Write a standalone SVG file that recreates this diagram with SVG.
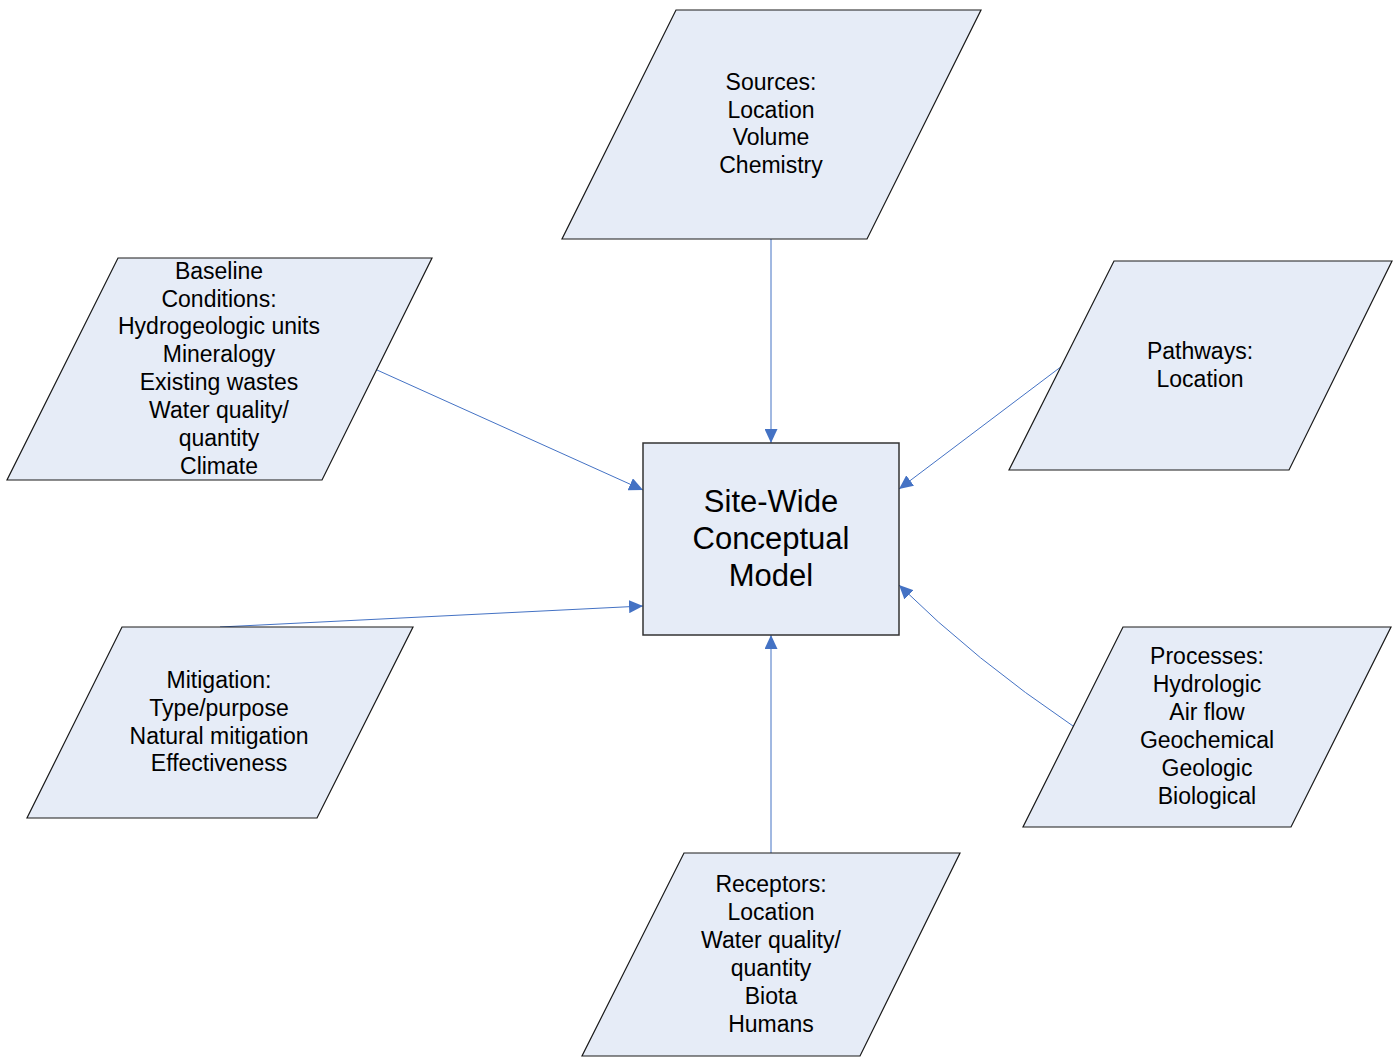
<svg xmlns="http://www.w3.org/2000/svg" width="1393" height="1057" viewBox="0 0 1393 1057">
<defs>
<style>
.node{fill:#E6ECF7;stroke:#1a1a1a;stroke-width:1.2}
.box{fill:#E6ECF7;stroke:#333;stroke-width:1.5}
.t{font-family:"Liberation Sans",Arial,sans-serif;font-size:23px;fill:#000;text-anchor:middle}
.tc{font-family:"Liberation Sans",Arial,sans-serif;font-size:31px;fill:#000;text-anchor:middle}
.c{fill:none;stroke:#4472C4;stroke-width:1}
</style>
<marker id="arr" markerUnits="userSpaceOnUse" markerWidth="15" markerHeight="13" refX="14" refY="6.5" orient="auto">
<path d="M0,0 L14,6.5 L0,13 z" fill="#4472C4"/>
</marker>
</defs>
<rect width="1393" height="1057" fill="#fff"/>
<g id="connectors">
<line class="c" x1="771" y1="239" x2="771" y2="443" marker-end="url(#arr)"/>
<line class="c" x1="377" y1="370" x2="643" y2="490" marker-end="url(#arr)"/>
<line class="c" x1="1062" y1="366" x2="899" y2="489" marker-end="url(#arr)"/>
<line class="c" x1="220" y1="627" x2="643" y2="606" marker-end="url(#arr)"/>
<path class="c" d="M1073,726 Q975,660 899,585" marker-end="url(#arr)"/>
<line class="c" x1="771" y1="853" x2="771" y2="635" marker-end="url(#arr)"/>
</g>
<g id="sources">
<polygon class="node" points="676,10 981,10 867,239 562,239"/>
<text class="t" x="771" y="90">Sources:</text>
<text class="t" x="771" y="118">Location</text>
<text class="t" x="771" y="145">Volume</text>
<text class="t" x="771" y="173">Chemistry</text>
</g>
<g id="baseline">
<polygon class="node" points="118,258 432,258 322,480 7,480"/>
<text class="t" x="219" y="279">Baseline</text>
<text class="t" x="219" y="307">Conditions:</text>
<text class="t" x="219" y="334">Hydrogeologic units</text>
<text class="t" x="219" y="362">Mineralogy</text>
<text class="t" x="219" y="390">Existing wastes</text>
<text class="t" x="219" y="418">Water quality/</text>
<text class="t" x="219" y="446">quantity</text>
<text class="t" x="219" y="474">Climate</text>
</g>
<g id="pathways">
<polygon class="node" points="1114,261 1392,261 1289,470 1009,470"/>
<text class="t" x="1200" y="359">Pathways:</text>
<text class="t" x="1200" y="387">Location</text>
</g>
<g id="center">
<rect class="box" x="643" y="443" width="256" height="192"/>
<text class="tc" x="771" y="512">Site-Wide</text>
<text class="tc" x="771" y="549">Conceptual</text>
<text class="tc" x="771" y="586">Model</text>
</g>
<g id="mitigation">
<polygon class="node" points="122,627 413,627 317,818 27,818"/>
<text class="t" x="219" y="688">Mitigation:</text>
<text class="t" x="219" y="716">Type/purpose</text>
<text class="t" x="219" y="744">Natural mitigation</text>
<text class="t" x="219" y="771">Effectiveness</text>
</g>
<g id="processes">
<polygon class="node" points="1123,627 1391,627 1291,827 1023,827"/>
<text class="t" x="1207" y="664">Processes:</text>
<text class="t" x="1207" y="692">Hydrologic</text>
<text class="t" x="1207" y="720">Air flow</text>
<text class="t" x="1207" y="748">Geochemical</text>
<text class="t" x="1207" y="776">Geologic</text>
<text class="t" x="1207" y="804">Biological</text>
</g>
<g id="receptors">
<polygon class="node" points="684,853 960,853 860,1056 582,1056"/>
<text class="t" x="771" y="892">Receptors:</text>
<text class="t" x="771" y="920">Location</text>
<text class="t" x="771" y="948">Water quality/</text>
<text class="t" x="771" y="976">quantity</text>
<text class="t" x="771" y="1004">Biota</text>
<text class="t" x="771" y="1032">Humans</text>
</g>
</svg>
